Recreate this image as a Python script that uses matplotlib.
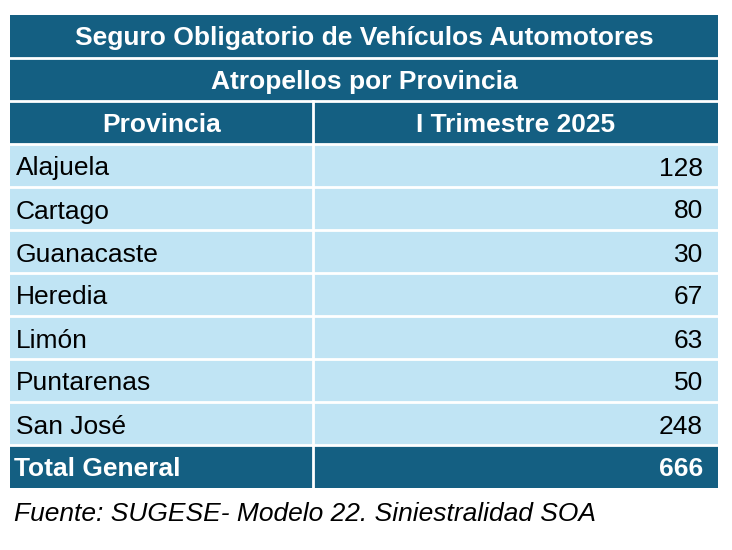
import matplotlib
matplotlib.use("Agg")
import matplotlib.pyplot as plt
from matplotlib.patches import Rectangle
from matplotlib import font_manager

title1 = "Seguro Obligatorio de Vehículos Automotores"
title2 = "Atropellos por Provincia"
col_headers = ["Provincia", "I Trimestre 2025"]
provincias = ["Alajuela", "Cartago", "Guanacaste", "Heredia", "Limón", "Puntarenas", "San José"]
valores = [128, 80, 30, 67, 63, 50, 248]
total_label = "Total General"
total_value = 666
fuente = "Fuente: SUGESE- Modelo 22. Siniestralidad SOA"

names = {f.name for f in font_manager.fontManager.ttflist}
fam = "Liberation Sans Narrow" if "Liberation Sans Narrow" in names else "Liberation Sans"

dark = "#145F82"
light = "#C0E4F4"

fig = plt.figure(figsize=(7.32, 5.5), dpi=100)
ax = fig.add_axes([0, 0, 1, 1])
ax.set_xlim(0, 732); ax.set_ylim(550, 0); ax.axis("off")

x0, x1, xs = 10, 718, 313
rh = 43
y = 15
def rect(x, y, w, h, c):
    ax.add_patch(Rectangle((x, y), w, h, facecolor=c, edgecolor="none"))

for t in [title1, title2]:
    rect(x0, y, x1 - x0, rh, dark)
    ax.text((x0 + x1) / 2, y + rh / 2 + 2, t, color="white", fontsize=19, fontweight="bold",
            ha="center", va="center", family=fam)
    y += rh
rect(x0, y, x1 - x0, rh, dark)
ax.text((x0 + xs) / 2, y + rh / 2 + 2, col_headers[0], color="white", fontsize=19, fontweight="bold", ha="center", va="center", family=fam)
ax.text((xs + x1) / 2, y + rh / 2 + 2, col_headers[1], color="white", fontsize=19, fontweight="bold", ha="center", va="center", family=fam)
y += rh
for p, v in zip(provincias, valores):
    rect(x0, y, x1 - x0, rh, light)
    ax.text(16, y + rh / 2 + 3, p, fontsize=19, ha="left", va="center", family=fam, color="black")
    ax.text(703, y + rh / 2 + 3, str(v), fontsize=19, ha="right", va="center", family=fam, color="black")
    y += rh
rect(x0, y, x1 - x0, rh, dark)
ax.text(14, y + rh / 2 + 3, total_label, color="white", fontsize=19, fontweight="bold", ha="left", va="center", family=fam)
ax.text(703, y + rh / 2 + 3, str(total_value), color="white", fontsize=19, fontweight="bold", ha="right", va="center", family=fam)
yend = y + rh

# grid lines
for k in range(1, 11):
    yy = 15 + k * rh
    ax.plot([x0, x1], [yy, yy], color="white", lw=2)
ax.plot([xs, xs], [15 + 2 * rh, yend], color="white", lw=2)

ax.text(14, yend + 26, fuente, fontsize=19, style="italic", ha="left", va="center", family=fam, color="black")
fig.savefig("out.png", dpi=100)
